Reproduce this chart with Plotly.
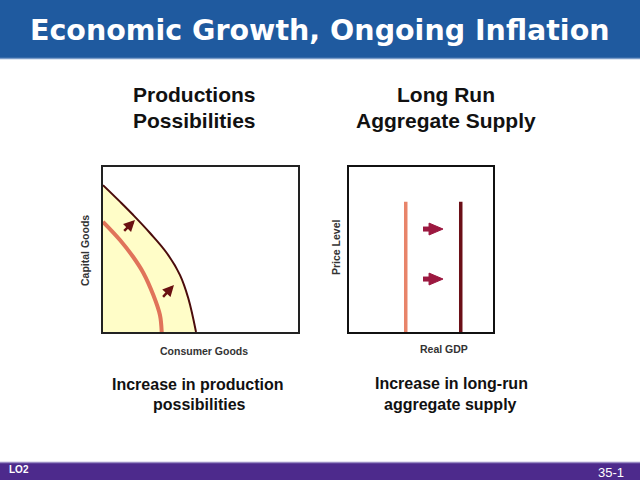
import plotly.graph_objects as go

# ---------------- data ----------------
title_text = "Economic Growth, Ongoing Inflation"
left_title = ["Productions", "Possibilities"]
right_title = ["Long Run", "Aggregate Supply"]
left_caption = ["Increase in production", "possibilities"]
right_caption = ["Increase in long-run", "aggregate supply"]
left_xlabel = "Consumer Goods"
left_ylabel = "Capital Goods"
right_xlabel = "Real GDP"
right_ylabel = "Price Level"
footer_left = "LO2"
footer_right = "35-1"

# production possibilities curves (consumer goods, capital goods)
ppc_outer_x = [0, 8.7, 15.5, 24.1, 32.7, 39.5, 43.7, 47.7]
ppc_outer_y = [89, 79.0, 70.9, 60.0, 47.9, 34.5, 20.6, 0]
ppc_inner_x = [0, 8.7, 15.4, 20.7, 25.8, 29.2, 30.1]
ppc_inner_y = [66.8, 55.8, 45.6, 35.8, 22.4, 10.3, 0]

# shift arrows on PPC: tail -> head
ppc_arrow_tail_x = [10.1, 30.1]
ppc_arrow_tail_y = [60.4, 20.4]
ppc_arrow_head_x = [16.4, 36.4]
ppc_arrow_head_y = [67.9, 28.5]

# long run aggregate supply
lras_x = [39.4, 77.6]
lras_top = 79
lras_colors = ["#E8846A", "#6B0F17"]
lras_widths = [3.5, 3.5]

# shift arrows on LRAS
lras_arrow_y = [62.4, 32.1]
lras_arrow_tail_x = 51.4
lras_arrow_base_x = 55.6
lras_arrow_tip_x = 65.3
lras_arrow_half_h = 3.6

# ---------------- figure ----------------
W, H = 640, 480
def px(x):
    return x / W
def py(y):
    return 1 - y / H

fig = go.Figure()

# PPC fill + outer curve
fig.add_trace(go.Scatter(x=ppc_outer_x, y=ppc_outer_y, mode="lines",
                         line=dict(color="#4B0C0C", width=2, shape="spline", smoothing=1.1),
                         fill="tozeroy", fillcolor="#FFFDC8",
                         xaxis="x", yaxis="y", hoverinfo="skip"))
fig.add_trace(go.Scatter(x=ppc_inner_x, y=ppc_inner_y, mode="lines",
                         line=dict(color="#E0735A", width=4, shape="spline"),
                         xaxis="x", yaxis="y", hoverinfo="skip"))

# LRAS lines
for xv, c, w in zip(lras_x, lras_colors, lras_widths):
    fig.add_trace(go.Scatter(x=[xv, xv], y=[0, lras_top], mode="lines",
                             line=dict(color=c, width=w),
                             xaxis="x2", yaxis="y2", hoverinfo="skip"))

# LRAS arrows
for yv in lras_arrow_y:
    fig.add_trace(go.Scatter(x=[lras_arrow_tail_x, lras_arrow_base_x + 0.5], y=[yv, yv],
                             mode="lines", line=dict(color="#9C1840", width=5),
                             xaxis="x2", yaxis="y2", hoverinfo="skip"))
    fig.add_trace(go.Scatter(x=[lras_arrow_base_x, lras_arrow_tip_x, lras_arrow_base_x, lras_arrow_base_x],
                             y=[yv - lras_arrow_half_h, yv, yv + lras_arrow_half_h, yv - lras_arrow_half_h],
                             mode="lines", fill="toself", fillcolor="#9C1840",
                             line=dict(color="#9C1840", width=1),
                             xaxis="x2", yaxis="y2", hoverinfo="skip"))

annotations = []
# PPC arrows
for tx, ty, hx, hy in zip(ppc_arrow_tail_x, ppc_arrow_tail_y, ppc_arrow_head_x, ppc_arrow_head_y):
    annotations.append(dict(x=hx, y=hy, ax=tx, ay=ty, xref="x", yref="y", axref="x", ayref="y",
                            text="", showarrow=True, arrowhead=2, arrowsize=0.9,
                            arrowwidth=2.5, arrowcolor="#6A1111", standoff=0))

body_font = "Liberation Sans, Arial, sans-serif"

def txt(s, x, y, size, bold=True, color="#111111", angle=0, xanchor="center", family=body_font):
    annotations.append(dict(text=("<b>%s</b>" % s) if bold else s, x=px(x), y=py(y),
                            xref="paper", yref="paper", showarrow=False,
                            xanchor=xanchor, yanchor="middle", textangle=angle,
                            font=dict(size=size, color=color, family=family)))

# title
txt(title_text, 320, 30, 28.5, color="white", family="DejaVu Sans, Verdana, sans-serif")
# panel titles
txt(left_title[0], 194, 95, 21)
txt(left_title[1], 194, 120, 21)
txt(right_title[0], 446, 95, 21)
txt(right_title[1], 446, 120, 21)
# axis labels
txt(left_xlabel, 204, 351, 10.5, color="#333333")
txt(left_ylabel, 85, 251, 10.5, color="#333333", angle=-90)
txt(right_xlabel, 444, 349, 10.5, color="#333333")
txt(right_ylabel, 336, 247, 10.5, color="#333333", angle=-90)
# captions
txt(left_caption[0], 198, 384, 16)
txt(left_caption[1], 199, 404, 16)
txt(right_caption[0], 451, 383, 16)
txt(right_caption[1], 450, 404, 16)
# footer
txt(footer_left, 7, 469, 10, color="white", xanchor="left")
txt(footer_right, 611, 472, 13, bold=False, color="white")

shapes = [
    dict(type="rect", xref="paper", yref="paper", x0=0, x1=1, y0=py(58), y1=1,
         fillcolor="#1F5A9F", line=dict(width=0), layer="below"),
    dict(type="line", xref="paper", yref="paper", x0=0, x1=1, y0=py(58.5), y1=py(58.5),
         line=dict(color="#7A9CC8", width=1.5), layer="below"),
    dict(type="rect", xref="paper", yref="paper", x0=0, x1=1, y0=0, y1=py(463),
         fillcolor="#4D2A8C", line=dict(width=0), layer="below"),
    dict(type="line", xref="paper", yref="paper", x0=0, x1=1, y0=py(462.5), y1=py(462.5),
         line=dict(color="#9A8CC4", width=1.5), layer="below"),
]

ax_common = dict(showgrid=False, zeroline=False, showticklabels=False, ticks="",
                 showline=True, mirror=True, range=[0, 100], fixedrange=True)

fig.update_layout(
    width=W, height=H, margin=dict(l=0, r=0, t=0, b=0),
    paper_bgcolor="white", plot_bgcolor="white", showlegend=False,
    xaxis=dict(domain=[px(103), px(298)], anchor="y", linecolor="#222222", linewidth=2, **ax_common),
    yaxis=dict(domain=[py(332), py(167)], anchor="x", linecolor="#222222", linewidth=2, **ax_common),
    xaxis2=dict(domain=[px(349), px(493)], anchor="y2", linecolor="#111111", linewidth=2, **ax_common),
    yaxis2=dict(domain=[py(332), py(167)], anchor="x2", linecolor="#111111", linewidth=2, **ax_common),
    annotations=annotations, shapes=shapes,
)

fig.write_html("out.html", config={"displayModeBar": False},
               post_script="document.body.style.margin='0px';document.body.style.overflow='hidden';")
